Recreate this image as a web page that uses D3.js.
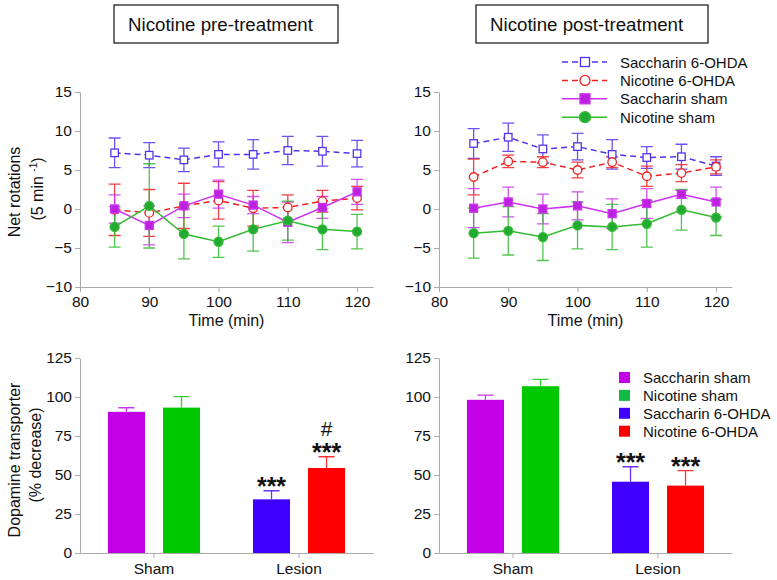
<!DOCTYPE html>
<html lang="en">
<head>
<meta charset="utf-8">
<title></title>
<script src="https://d3js.org/d3.v7.min.js"></script>
<style>
body { margin: 0; background: white; }
svg text { font-family: Arial, "Liberation Sans", sans-serif; }
.axis path, .axis line { stroke: #aaa; stroke-width: 1; }
.axis text { font-size: 15.5px; fill: #111; font-family: Arial, "Liberation Sans", sans-serif; }
.axis-title { font-size: 16px; fill: #111; }
.legend-text { font-size: 15px; fill: #111; }
.title-text { font-size: 18.7px; fill: #111; }
.stars { font-size: 25px; font-weight: bold; fill: #111; }
</style>
</head>
<body>
<svg id="chart" width="777" height="580"></svg>
<script>
// time points (min)
var times = [85, 90, 95, 100, 105, 110, 115, 120];

// pre-treatment rotations, mean and sem
var preSac6 = [7.2, 6.9, 6.3, 7.0, 7.0, 7.5, 7.4, 7.1];
var preSac6Err = [1.9, 1.6, 1.5, 1.6, 1.9, 1.8, 1.9, 1.7];
var preNic6 = [-0.1, -0.5, 0.4, 1.1, 0.1, 0.2, 1.0, 1.4];
var preNic6Err = [3.3, 3.0, 2.9, 2.4, 2.3, 1.6, 1.4, 1.5];
var preSacSham = [0.0, -2.1, 0.4, 1.9, 0.5, -1.7, 0.2, 2.2];
var preSacShamErr = [1.8, 2.5, 1.5, 1.8, 1.1, 2.6, 1.4, 1.6];
var preNicSham = [-2.3, 0.4, -3.2, -4.2, -2.6, -1.5, -2.6, -2.9];
var preNicShamErr = [2.6, 5.4, 3.2, 2.0, 2.8, 2.5, 2.6, 2.2];

// post-treatment rotations
var postSac6 = [8.4, 9.2, 7.7, 8.0, 7.0, 6.6, 6.7, 5.5];
var postSac6Err = [1.9, 1.8, 1.8, 1.7, 1.9, 1.4, 1.6, 1.2];
var postNic6 = [4.1, 6.1, 6.0, 5.0, 6.0, 4.2, 4.6, 5.4];
var postNic6Err = [2.3, 0.8, 0.7, 1.0, 0.7, 1.3, 1.1, 0.9];
var postSacSham = [0.1, 0.9, 0.0, 0.4, -0.6, 0.7, 1.9, 0.9];
var postSacShamErr = [2.5, 1.9, 1.9, 1.8, 1.9, 1.9, 0.5, 1.9];
var postNicSham = [-3.1, -2.8, -3.6, -2.1, -2.3, -1.9, -0.1, -1.1];
var postNicShamErr = [3.2, 3.1, 3.0, 3.0, 2.9, 3.0, 2.6, 2.3];

// dopamine transporter bars
var groups = ["Sham", "Lesion"];
var barNames = ["Saccharin sham", "Nicotine sham", "Saccharin 6-OHDA", "Nicotine 6-OHDA"];
var barGroup = ["Sham", "Sham", "Lesion", "Lesion"];
var preBars = [90.5, 93.2, 34.4, 54.5];
var preBarsErr = [2.6, 7.0, 5.5, 7.2];
var postBars = [98.2, 106.9, 45.7, 43.2];
var postBarsErr = [3.0, 4.4, 9.6, 9.6];
var preMarks = [[], [], ["***"], ["***", "#"]];
var postMarks = [[], [], ["***"], ["***"]];

var timeTicks = [80, 90, 100, 110, 120];
var rotTicks = [-10, -5, 0, 5, 10, 15];
var datTicks = [0, 25, 50, 75, 100, 125];

var lineStyle = {
  "Saccharin 6-OHDA": {color: "#5533ee", dash: "6,4", shape: "square", fill: "white"},
  "Nicotine 6-OHDA": {color: "#ee2222", dash: "6,4", shape: "circle", fill: "white"},
  "Saccharin sham": {color: "#cc33ee", dash: null, shape: "square", fill: "#bb22dd"},
  "Nicotine sham": {color: "#33bb33", dash: null, shape: "circle", fill: "#22aa33"}
};
var barColors = ["#c400e6", "#00c800", "#4000ff", "#ff0000"];
var legendBarColors = ["#c400e6", "#10bb45", "#4000ff", "#ff0000"];

var svg = d3.select("#chart");
var panelW = 293;

function series(name, vals, errs) {
  return {name: name, values: vals.map(function(v, i) { return {t: times[i], v: v, e: errs[i]}; })};
}

var preSeries = [
  series("Saccharin 6-OHDA", preSac6, preSac6Err),
  series("Nicotine 6-OHDA", preNic6, preNic6Err),
  series("Saccharin sham", preSacSham, preSacShamErr),
  series("Nicotine sham", preNicSham, preNicShamErr)
];
var postSeries = [
  series("Saccharin 6-OHDA", postSac6, postSac6Err),
  series("Nicotine 6-OHDA", postNic6, postNic6Err),
  series("Saccharin sham", postSacSham, postSacShamErr),
  series("Nicotine sham", postNicSham, postNicShamErr)
];

function drawMarker(g, shape, x, y, st, size) {
  if (shape == "square") {
    g.append("rect").attr("x", x - size / 2).attr("y", y - size / 2)
      .attr("width", size).attr("height", size)
      .attr("fill", st.fill).attr("stroke", st.color).attr("stroke-width", 1.3);
  } else {
    g.append("circle").attr("cx", x).attr("cy", y).attr("r", size / 2 + 0.5)
      .attr("fill", st.fill).attr("stroke", st.color).attr("stroke-width", 1.3);
  }
}

function linePanel(x0, data, title, boxX, boxW, withYTitle) {
  var x = d3.scaleLinear().domain([80, 122.3]).range([x0, x0 + panelW]);
  var y = d3.scaleLinear().domain([-10, 15]).range([287, 92]);

  svg.append("g").attr("class", "axis").attr("transform", "translate(" + x0 + ",0)")
    .call(d3.axisLeft(y).tickValues(rotTicks).tickSize(5).tickPadding(3).tickSizeOuter(0));
  svg.append("g").attr("class", "axis").attr("transform", "translate(0,287)")
    .call(d3.axisBottom(x).tickValues(timeTicks).tickSize(5).tickPadding(4).tickSizeOuter(0));

  svg.append("text").attr("class", "axis-title").attr("x", x0 + panelW / 2).attr("y", 326)
    .attr("text-anchor", "middle").text("Time (min)");

  if (withYTitle) {
    svg.append("text").attr("class", "axis-title").attr("text-anchor", "middle")
      .attr("transform", "translate(20,192) rotate(-90)").text("Net rotations");
    var t2 = svg.append("text").attr("class", "axis-title").attr("text-anchor", "middle")
      .attr("transform", "translate(43,189) rotate(-90)");
    t2.append("tspan").text("(5 min ");
    t2.append("tspan").attr("dy", -6).style("font-size", "10px").text("-1");
    t2.append("tspan").attr("dy", 6).text(")");
  }

  // title box
  svg.append("rect").attr("x", boxX).attr("y", 5).attr("width", boxW).attr("height", 38)
    .attr("fill", "white").attr("stroke", "#111").attr("stroke-width", 1.2);
  svg.append("text").attr("class", "title-text").attr("x", boxX + 14).attr("y", 31).text(title);

  var line = d3.line().x(function(d) { return x(d.t); }).y(function(d) { return y(d.v); });

  data.forEach(function(s) {
    var st = lineStyle[s.name];
    var g = svg.append("g");
    g.selectAll(".eb").data(s.values).enter().append("path")
      .attr("d", function(d) {
        var cx = x(d.t), hi = y(d.v + d.e), lo = y(d.v - d.e);
        return "M" + cx + "," + hi + "V" + lo + "M" + (cx - 6) + "," + hi + "H" + (cx + 6) +
          "M" + (cx - 6) + "," + lo + "H" + (cx + 6);
      })
      .attr("stroke", st.color).attr("stroke-width", 1.3).attr("fill", "none").attr("opacity", 0.85);
  });
  data.forEach(function(s) {
    var st = lineStyle[s.name];
    var g = svg.append("g");
    g.append("path").datum(s.values).attr("d", line).attr("fill", "none")
      .attr("stroke", st.color).attr("stroke-width", 1.5)
      .attr("stroke-dasharray", st.dash);
    s.values.forEach(function(d) {
      drawMarker(g, st.shape, x(d.t), y(d.v), st, st.fill == "white" ? 7.5 : 8);
    });
  });
}

function barPanel(x0, vals, errs, marks, withYTitle) {
  var y = d3.scaleLinear().domain([0, 125]).range([553, 358]);
  var xg = d3.scaleBand().domain(groups).range([x0, x0 + panelW]).paddingInner(0.2).paddingOuter(0.11);
  var xs = d3.scaleBand().domain([0, 1]).range([0, xg.bandwidth()]).paddingInner(0.327).paddingOuter(0.218);

  svg.append("g").attr("class", "axis").attr("transform", "translate(" + x0 + ",0)")
    .call(d3.axisLeft(y).tickValues(datTicks).tickSize(5).tickPadding(3).tickSizeOuter(0));
  var xa = svg.append("g").attr("class", "axis").attr("transform", "translate(0,553)")
    .call(d3.axisBottom(xg).tickSize(5).tickPadding(5).tickSizeOuter(0));
  xa.selectAll("text").style("font-size", "15.5px");

  if (withYTitle) {
    svg.append("text").attr("class", "axis-title").attr("text-anchor", "middle")
      .attr("transform", "translate(20,460) rotate(-90)").text("Dopamine transporter");
    svg.append("text").attr("class", "axis-title").attr("text-anchor", "middle")
      .attr("transform", "translate(41,455) rotate(-90)").text("(% decrease)");
  }

  var bars = vals.map(function(v, i) {
    var grp = barGroup[i];
    var idx = barGroup.slice(0, i).filter(function(gn) { return gn == grp; }).length;
    return {v: v, e: errs[i], x: xg(grp) + xs(idx), w: xs.bandwidth(), color: barColors[i], marks: marks[i]};
  });

  var g = svg.append("g");
  g.selectAll(".err").data(bars).enter().append("path")
    .attr("d", function(d) {
      var cx = d.x + d.w / 2, hi = y(d.v + d.e);
      return "M" + cx + "," + y(d.v) + "V" + hi + "M" + (cx - 8) + "," + hi + "H" + (cx + 8);
    })
    .attr("stroke", function(d) { return d.color; }).attr("stroke-width", 1.3).attr("fill", "none")
    .attr("opacity", 0.8);
  g.selectAll(".bar").data(bars).enter().append("rect")
    .attr("x", function(d) { return d.x; })
    .attr("y", function(d) { return y(d.v); })
    .attr("width", function(d) { return d.w; })
    .attr("height", function(d) { return y(0) - y(d.v); })
    .attr("fill", function(d) { return d.color; });

  bars.forEach(function(d) {
    var base = y(d.v + d.e) + 4;
    d.marks.forEach(function(m) {
      if (m == "#") {
        g.append("text").attr("x", d.x + d.w / 2).attr("y", base - 25).attr("text-anchor", "middle")
          .style("font-size", "21px").style("fill", "#111").text(m);
      } else {
        g.append("text").attr("class", "stars").attr("x", d.x + d.w / 2).attr("y", base)
          .attr("text-anchor", "middle").text(m);
      }
    });
  });
}

linePanel(80, preSeries, "Nicotine pre-treatment", 114, 224, true);
linePanel(439, postSeries, "Nicotine post-treatment", 476, 232, false);
barPanel(80, preBars, preBarsErr, preMarks, true);
barPanel(439, postBars, postBarsErr, postMarks, false);

// legend for line charts
var legendOrder = ["Saccharin 6-OHDA", "Nicotine 6-OHDA", "Saccharin sham", "Nicotine sham"];
var lg = svg.append("g");
legendOrder.forEach(function(name, i) {
  var st = lineStyle[name];
  var cy = 62 + i * 18.4;
  lg.append("line").attr("x1", 562).attr("x2", 607).attr("y1", cy).attr("y2", cy)
    .attr("stroke", st.color).attr("stroke-width", 1.5).attr("stroke-dasharray", st.dash);
  drawMarker(lg, st.shape, 585, cy, st, st.fill == "white" ? 9 : 10);
  lg.append("text").attr("class", "legend-text").attr("x", 620).attr("y", cy + 5.5).text(name);
});

// legend for bar charts
var bg = svg.append("g");
barNames.forEach(function(name, i) {
  var cy = 377.5 + i * 17.9;
  bg.append("rect").attr("x", 619).attr("y", cy - 5.5).attr("width", 11).attr("height", 11)
    .attr("fill", legendBarColors[i]);
  bg.append("text").attr("class", "legend-text").attr("x", 643).attr("y", cy + 5.5).text(name);
});
</script>
</body>
</html>
